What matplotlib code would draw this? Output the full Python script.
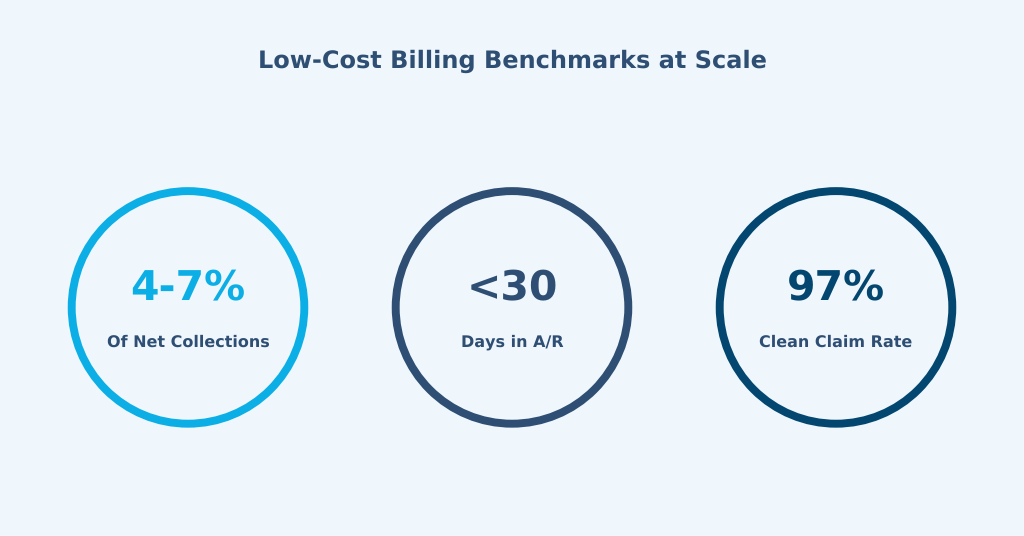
import matplotlib
matplotlib.use("Agg")
import matplotlib.pyplot as plt
from matplotlib.patches import Circle

plt.rcParams['font.family'] = ['DejaVu Sans']
plt.rcParams['text.hinting'] = 'no_hinting'
plt.rcParams['text.hinting_factor'] = 1

title = "Low-Cost Billing Benchmarks at Scale"
values = ["4-7%", "<30", "97%"]
labels = ["Of Net Collections", "Days in A/R", "Clean Claim Rate"]
colors = ["#0CAEE6", "#2E4E73", "#03466F"]
centers = [188, 512, 836]

bg = "#EFF7FC"
fig = plt.figure(figsize=(10.24, 5.36), dpi=100, facecolor=bg)
ax = fig.add_axes([0, 0, 1, 1])
ax.set_xlim(0, 1024)
ax.set_ylim(536, 0)
ax.axis("off")

ax.text(512, 61.6, title, ha="center", va="center", fontsize=17.0, fontweight="bold", color="#2E4E73")
for cx, v, l, c in zip(centers, values, labels, colors):
    ax.add_patch(Circle((cx, 307.4), 116.3, fill=False, edgecolor=c, linewidth=5.7))
    ax.text(cx, 289, v, ha="center", va="center", fontsize=29.3, fontweight="bold", color=c)
    ax.text(cx, 342.3, l, ha="center", va="center", fontsize=11.85, fontweight="bold", color="#2E4E73")

fig.savefig("out.png", dpi=100, facecolor=bg)
